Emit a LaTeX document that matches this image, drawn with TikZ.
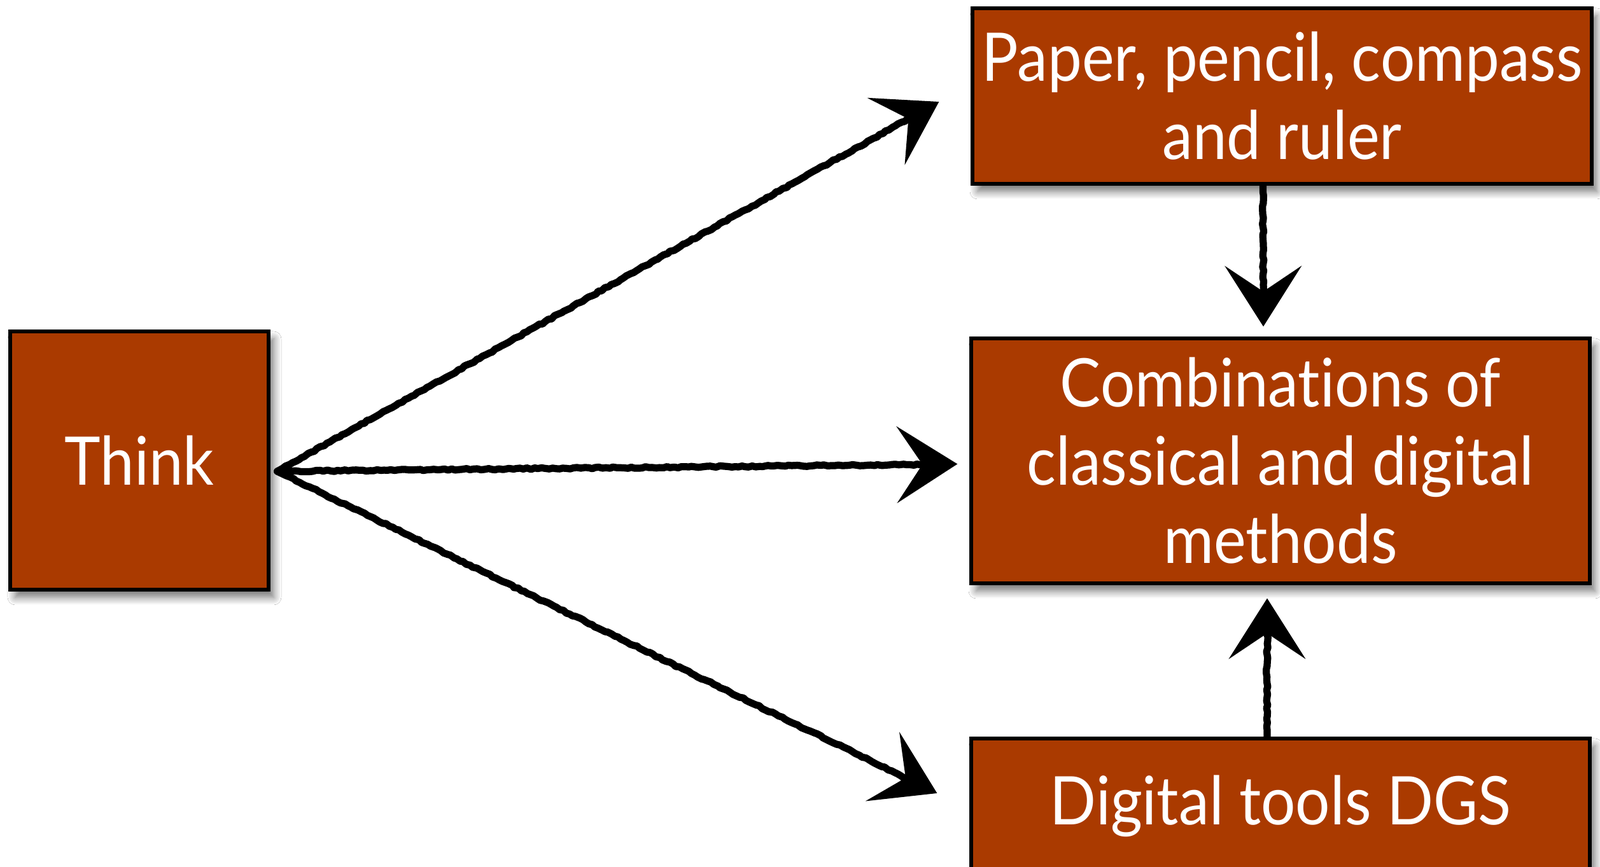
\documentclass[tikz,border=0pt]{standalone}
\usepackage{fontspec}
\setmainfont{Lato}[FakeStretch=0.91, Ligatures=NoCommon]
\usetikzlibrary{arrows.meta,calc,shadows.blur,decorations.pathmorphing}
\definecolor{boxfill}{RGB}{170,58,0}
\tikzset{
  box/.style={draw=black, line width=1.5pt, fill=boxfill, text=white, align=center,
    font=\fontsize{30}{35}\selectfont, inner sep=0pt,
    blur shadow={shadow xshift=0.08cm, shadow yshift=-0.12cm, shadow blur steps=8, shadow blur radius=0.12cm, shadow opacity=55}},
  sketch/.style={line width=3.2pt, black, line cap=round, line join=round,
    decoration={random steps, segment length=1.6pt, amplitude=0.35pt, pre length=3pt, post length=9pt},
    decorate, -{Stealth[length=0.95cm, width=1.2cm, inset=0.4cm]}}
}
\begin{document}
\begin{tikzpicture}
\useasboundingbox (0,0) rectangle (25.14,13.63);
\fill[white] (0,0) rectangle (25.14,13.63);
\node[box, minimum width=4.06cm, minimum height=4.06cm] (think) at (2.19,6.39) {Think};
\node[box, minimum width=9.73cm, minimum height=2.76cm] (paper) at (20.145,12.12) {Paper, pencil, compass\\and ruler};
\node[box, minimum width=9.72cm, minimum height=3.85cm] (combo) at (20.12,6.385) {Combinations of\\classical and digital\\methods};
\node[box, minimum width=9.72cm, minimum height=2.12cm] (digital) at (20.12,0.96) {Digital tools DGS};
\coordinate (src) at ($(think.east)+(0.11,-0.17)$);
\draw[sketch] (src) -- ($(paper.west)+(-0.5,-0.09)$);
\draw[sketch] (src) -- ($(combo.west)+(-0.19,-0.05)$);
\draw[sketch] (src) -- ($(digital.west)+(-0.51,0.2)$);
\draw[sketch] ($(paper.south)+(-0.3,0)$) -- ($(combo.north)+(-0.27,0.16)$);
\draw[sketch] ($(digital.north)+(-0.21,0)$) -- ($(combo.south)+(-0.21,-0.21)$);
\end{tikzpicture}
\end{document}
